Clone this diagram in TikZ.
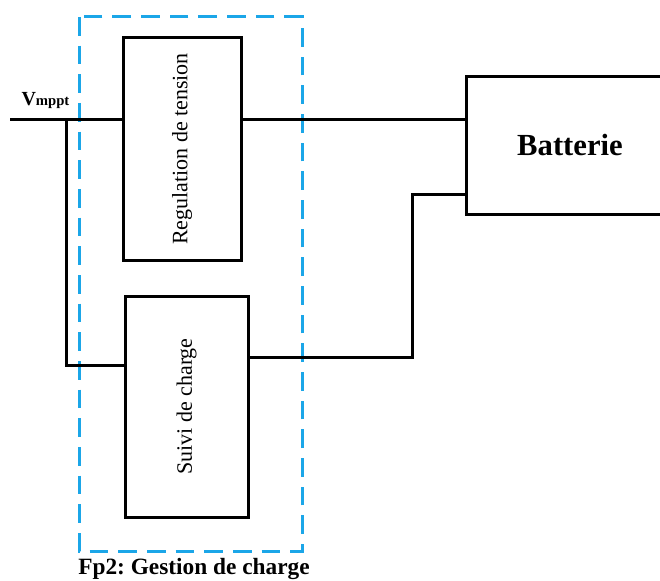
\documentclass[tikz,border=0pt]{standalone}
\usepackage{fontspec}
\setmainfont{Liberation Serif}
\usetikzlibrary{calc}
\definecolor{fpblue}{HTML}{1BA6E8}
\frenchspacing

\begin{document}
\begin{tikzpicture}[x=0.75pt, y=-0.75pt, line width=2.25pt,
  box/.style={draw=black, line width=2.25pt, inner sep=0pt,
              align=center, font=\fontsize{16.5}{18}\selectfont},
  wire/.style={draw=black, line width=2.25pt}]

% Canvas
\useasboundingbox (0,0) rectangle (660,581);
\clip (0,0) rectangle (660,581);

% Function block Fp2
\draw[fpblue, line width=2.25pt, dash pattern=on 14pt off 7.5pt] (79,17) rectangle (302,551);
\node[font=\fontsize{17.5}{19}\selectfont\bfseries] (fp2) at (194,569) {Fp2: Gestion de charge};

\node[box, minimum width=88.5pt, minimum height=166.5pt] (reg) at (182,149) {};
\node[rotate=90, font=\fontsize{16.5}{18}\selectfont] (regtxt) at (reg.center) {Regulation de tension};
\node[box, minimum width=92.25pt, minimum height=165.75pt] (suivi) at (186.5,406.5) {};
\node[rotate=90, font=\fontsize{16.5}{18}\selectfont] (suivitxt) at (suivi.center) {Suivi de charge};
\node[box, minimum width=156pt, minimum height=102.75pt,
      font=\fontsize{23}{26}\selectfont\bfseries] (batt) at (570,145.5) {Batterie};

% Input
\node[anchor=base west, inner sep=0pt] (vin) at (20,106)
  {\fontsize{15}{16}\selectfont\bfseries V\fontsize{11}{12}\selectfont mppt};
\coordinate (in) at (10,120);
\coordinate (jn) at (66,120);
\coordinate (bin) at ($(batt.north west)!0.85!(batt.south west)$);

\draw[wire] (in) -- (in -| reg.west);
\draw[wire] (jn) |- ($(suivi.north west)!0.317!(suivi.south west)$);
\draw[wire] (in -| reg.east) -- (in -| batt.west);
\draw[wire] ($(suivi.north east)!0.28!(suivi.south east)$) -| ([xshift=-39pt]bin) -- (bin);

\end{tikzpicture}
\end{document}
